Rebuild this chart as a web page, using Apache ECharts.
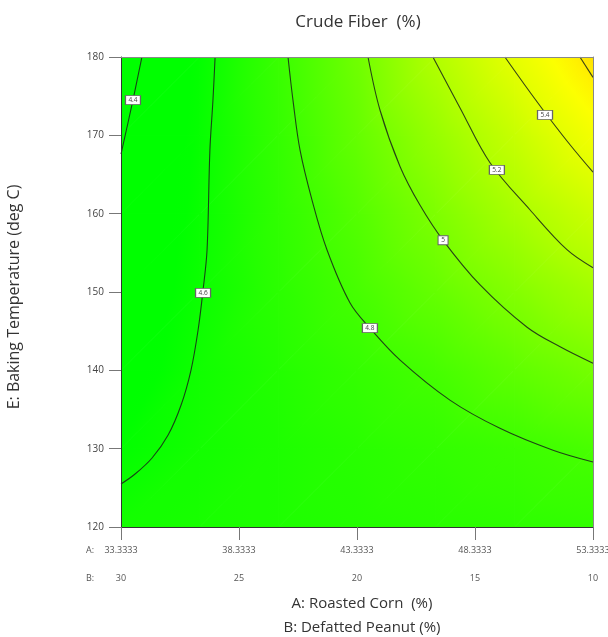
<!DOCTYPE html>
<html><head><meta charset="utf-8">
<script src="https://cdn.jsdelivr.net/npm/echarts@6/dist/echarts.min.js"></script>
<style>html,body{margin:0;padding:0;background:#fff;}#c{width:608px;height:637px;}</style>
</head><body><div id="c"></div>
<script>
// ---------- data ----------
const chartTitle = 'Crude Fiber  (%)';
const xNameA = 'A: Roasted Corn  (%)';
const xNameB = 'B: Defatted Peanut (%)';
const yName = 'E: Baking Temperature (deg C)';
const xTickA = ['33.3333', '38.3333', '43.3333', '48.3333', '53.3333'];
const xTickB = ['30', '25', '20', '15', '10'];
const yTicks = [120, 130, 140, 150, 160, 170, 180];

// response surface values read at grid nodes (A across, E up)
const nodeA = [33.3333, 36.6667, 40, 43.3333, 46.6667, 50, 53.3333];
const nodeE = [120, 130, 140, 150, 160, 170, 180];
const fieldE120 = [4.62, 4.64, 4.66, 4.68, 4.70, 4.72, 4.74];
const fieldE130 = [4.56, 4.62, 4.66, 4.70, 4.74, 4.78, 4.83];
const fieldE140 = [4.50, 4.61, 4.68, 4.75, 4.82, 4.91, 4.99];
const fieldE150 = [4.46, 4.59, 4.71, 4.82, 4.93, 5.04, 5.15];
const fieldE160 = [4.43, 4.58, 4.73, 4.87, 5.02, 5.17, 5.31];
const fieldE170 = [4.39, 4.57, 4.75, 4.93, 5.11, 5.29, 5.48];
const fieldE180 = [4.33, 4.56, 4.77, 4.97, 5.21, 5.42, 5.63];

// contour lines [A, E]
const contourLevels = [4.4, 4.6, 4.8, 5.0, 5.2, 5.4, 5.6];
const contour44 = [[34.22, 180], [33.84, 174.5], [33.3333, 167.6]];
const contour46 = [[37.32, 180], [37.23, 174.5], [37.10, 168.1], [36.98, 155.4], [36.81, 150.25], [36.60, 145.15], [36.30, 140.04], [35.88, 135.57], [35.33, 131.74], [34.65, 128.81], [33.93, 126.76], [33.3333, 125.49]];
const contour48 = [[40.41, 180], [40.62, 174.5], [40.92, 168.1], [41.43, 161.7], [42.06, 155.4], [43.04, 148.6], [43.88, 145.4], [45.16, 141.3], [47.27, 136.2], [49.39, 132.6], [51.64, 129.8], [53.3333, 128.3]];
const contour50 = [[43.80, 180], [44.31, 173.2], [45.16, 166.0], [46.00, 161.1], [46.98, 156.6], [48.55, 150.9], [50.54, 145.5], [51.94, 143.0], [53.3333, 140.9]];
const contour52 = [[46.55, 180], [47.70, 173.5], [48.97, 166.5], [50.66, 160.5], [52.23, 155.4], [53.3333, 153.1]];
const contour54 = [[49.60, 180], [50.45, 176.4], [51.38, 172.6], [52.36, 168.8], [53.3333, 165.3]];
const contour56 = [[52.78, 180], [53.3333, 177.4]];

// contour labels
const labelText = ['4.4', '4.6', '4.8', '5', '5.2', '5.4'];
const labelA = [33.84, 36.81, 43.88, 46.98, 49.26, 51.30];
const labelE = [174.5, 149.9, 145.4, 156.6, 165.6, 172.6];

// ---------- style ----------
const FONT = "'Open Sans', 'Noto Sans', sans-serif";
const colorStops = [
  [4.30, [0, 255, 0]], [4.55, [0, 255, 0]], [4.70, [40, 255, 0]], [4.80, [64, 255, 0]],
  [5.00, [120, 255, 0]], [5.20, [176, 255, 0]], [5.40, [226, 255, 0]], [5.53, [255, 255, 0]], [5.70, [255, 205, 0]]
];
function colorOf(v) {
  if (v <= colorStops[0][0]) return 'rgb(' + colorStops[0][1].join(',') + ')';
  for (let k = 1; k < colorStops.length; k++) {
    if (v <= colorStops[k][0]) {
      const [v0, c0] = colorStops[k - 1], [v1, c1] = colorStops[k];
      const t = (v - v0) / (v1 - v0);
      return 'rgb(' + c0.map((c, m) => Math.round(c + (c1[m] - c) * t)).join(',') + ')';
    }
  }
  return 'rgb(' + colorStops[colorStops.length - 1][1].join(',') + ')';
}

const field = [fieldE120, fieldE130, fieldE140, fieldE150, fieldE160, fieldE170, fieldE180];
const cells = [];
for (let j = 0; j < nodeE.length - 1; j++)
  for (let i = 0; i < nodeA.length - 1; i++)
    cells.push([(nodeA[i] + nodeA[i + 1]) / 2, (nodeE[j] + nodeE[j + 1]) / 2, i, j]);

function triangle(p, v) {
  const e1x = p[1][0] - p[0][0], e1y = p[1][1] - p[0][1];
  const e2x = p[2][0] - p[0][0], e2y = p[2][1] - p[0][1];
  const d1 = v[1] - v[0], d2 = v[2] - v[0];
  const det = e1x * e2y - e1y * e2x;
  const gx = (d1 * e2y - e1y * d2) / det, gy = (e1x * d2 - d1 * e2x) / det;
  const gl = Math.hypot(gx, gy);
  let fill;
  if (gl < 1e-9) fill = colorOf(v[0]);
  else {
    const nx = gx / gl, ny = gy / gl;
    const ts = p.map(q => (q[0] - p[0][0]) * nx + (q[1] - p[0][1]) * ny);
    const tmin = Math.min(...ts), tmax = Math.max(...ts);
    const vs = v[0] + gl * tmin, ve = v[0] + gl * tmax;
    const stops = [];
    for (let k = 0; k <= 6; k++) stops.push({ offset: k / 6, color: colorOf(vs + (ve - vs) * k / 6) });
    fill = new echarts.graphic.LinearGradient(
      p[0][0] + nx * tmin, p[0][1] + ny * tmin, p[0][0] + nx * tmax, p[0][1] + ny * tmax, stops, true);
  }
  return { type: 'polygon', shape: { points: p }, style: { fill: fill, stroke: fill, lineWidth: 1 } };
}

function renderCell(params, api) {
  const i = api.value(2), j = api.value(3);
  const bl = api.coord([nodeA[i], nodeE[j]]), br = api.coord([nodeA[i + 1], nodeE[j]]);
  const tl = api.coord([nodeA[i], nodeE[j + 1]]), tr = api.coord([nodeA[i + 1], nodeE[j + 1]]);
  const vbl = field[j][i], vbr = field[j][i + 1], vtl = field[j + 1][i], vtr = field[j + 1][i + 1];
  return {
    type: 'group',
    children: [triangle([bl, br, tr], [vbl, vbr, vtr]), triangle([bl, tr, tl], [vbl, vtr, vtl])]
  };
}

const contours = [contour44, contour46, contour48, contour50, contour52, contour54, contour56];

const chart = echarts.init(document.getElementById('c'), null, { renderer: 'canvas' });
const axisMin = Number(xTickA[0]), axisMax = Number(xTickA[xTickA.length - 1]);
chart.setOption({
  animation: false,
  textStyle: { fontFamily: FONT },
  grid: { left: 121, right: 15, top: 57, bottom: 110, containLabel: false, outerBoundsMode: 'none' },
  xAxis: [{
    type: 'value', min: axisMin, max: axisMax, interval: 5, position: 'bottom', z: 10,
    axisLine: { show: true, onZero: false, lineStyle: { color: '#333', width: 1 } },
    axisTick: { show: true, length: 13, lineStyle: { color: '#777' } },
    splitLine: { show: false },
    axisLabel: {
      margin: 16,
      formatter: function (v) {
        const k = Math.round((v - axisMin) / 5);
        return '{a|' + xTickA[k] + '}\n{b|' + xTickB[k] + '}';
      },
      rich: {
        a: { fontSize: 9, lineHeight: 14, color: '#555', fontFamily: FONT },
        b: { fontSize: 9, lineHeight: 42, color: '#555', fontFamily: FONT }
      }
    }
  }, {
    type: 'value', min: axisMin, max: axisMax, position: 'top', z: 10,
    axisLine: { show: true, onZero: false, lineStyle: { color: '#888' } },
    axisTick: { show: false }, axisLabel: { show: false }, splitLine: { show: false }
  }],
  yAxis: [{
    type: 'value', min: yTicks[0], max: yTicks[yTicks.length - 1], interval: 10, z: 10,
    axisLine: { show: true, onZero: false, lineStyle: { color: '#333', width: 1 } },
    axisTick: { show: true, length: 12, lineStyle: { color: '#777' } },
    splitLine: { show: false },
    axisLabel: { margin: 17, fontSize: 10, color: '#444' }
  }, {
    type: 'value', min: yTicks[0], max: yTicks[yTicks.length - 1], position: 'right', z: 10,
    axisLine: { show: true, onZero: false, lineStyle: { color: '#888' } },
    axisTick: { show: false }, axisLabel: { show: false }, splitLine: { show: false }
  }],
  graphic: [
    { type: 'text', x: 358, y: 22, style: { text: chartTitle, fontSize: 17, fontFamily: FONT, fill: '#333', align: 'center', verticalAlign: 'middle' } },
    { type: 'text', x: 362, y: 604, style: { text: xNameA, fontSize: 15, fontFamily: FONT, fill: '#333', align: 'center', verticalAlign: 'middle' } },
    { type: 'text', x: 362, y: 628, style: { text: xNameB, fontSize: 15, fontFamily: FONT, fill: '#333', align: 'center', verticalAlign: 'middle' } },
    { type: 'text', x: 14, y: 297, rotation: Math.PI / 2, style: { text: yName, fontSize: 16, fontFamily: FONT, fill: '#333', align: 'center', verticalAlign: 'middle' } },
    { type: 'text', x: 86, y: 550, style: { text: 'A:', fontSize: 9, fontFamily: FONT, fill: '#555', align: 'left', verticalAlign: 'middle' } },
    { type: 'text', x: 86, y: 578, style: { text: 'B:', fontSize: 9, fontFamily: FONT, fill: '#555', align: 'left', verticalAlign: 'middle' } }
  ],
  series: [
    { type: 'custom', data: cells, encode: { x: 0, y: 1 }, renderItem: renderCell, z: 1, silent: true, clip: true },
    ...contours.map((d, k) => ({
      type: 'line', name: String(contourLevels[k]), data: d, smooth: 0.35, showSymbol: false, symbol: 'none',
      silent: true, z: 3, clip: true,
      lineStyle: { color: 'rgba(25,35,25,0.85)', width: 1.1 }
    })),
    {
      type: 'scatter', z: 5, silent: true,
      data: labelA.map((a, k) => [a, labelE[k], labelText[k]]),
      symbol: 'rect',
      symbolSize: function (v, p) { return labelText[p.dataIndex].length > 1 ? [15, 9] : [10, 9]; },
      itemStyle: { color: '#fff', borderColor: '#666', borderWidth: 1, opacity: 1 },
      label: { show: true, position: 'inside', formatter: p => p.data[2], fontSize: 6.5, color: '#444' }
    }
  ]
});
</script></body></html>
